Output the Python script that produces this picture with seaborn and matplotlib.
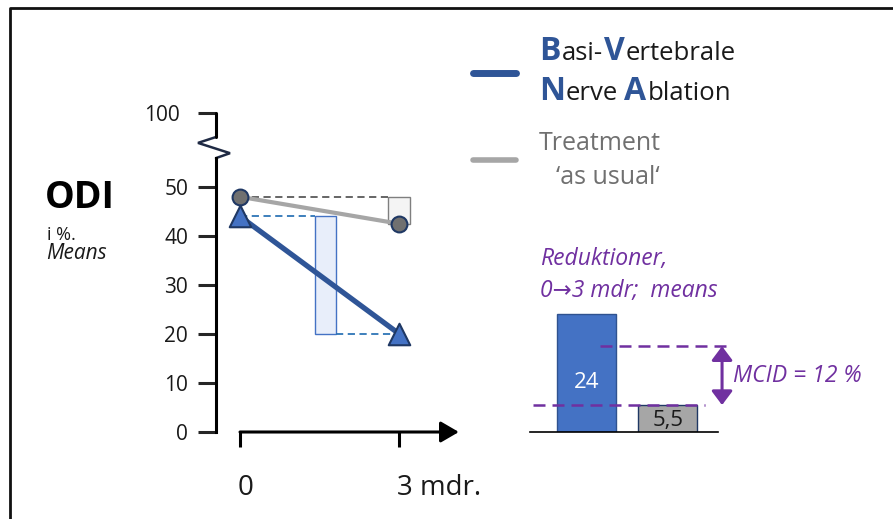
import matplotlib
matplotlib.use("Agg")
import matplotlib.pyplot as plt
from matplotlib.lines import Line2D
from matplotlib.patches import Rectangle
import seaborn as sns
import pandas as pd

#%% Data
months = [0, 3]
month_labels = ["0", "3 mdr."]
groups = ["BVNA", "TAU"]
odi_bvna = [44, 20]
odi_tau = [48, 42.5]
reductions = [24, 5.5]
reduction_labels = ["24", "5,5"]
mcid = 12
yticks = [0, 10, 20, 30, 40, 50]
ytick_labels = ["0", "10", "20", "30", "40", "50"]
break_pos = 65.1      # axis position of the "100" tick (axis is broken above 50)
break_label = "100"

#%% Style
sns.set_theme(style="white")
plt.rcParams["font.family"] = ["Open Sans", "DejaVu Sans"]

W, H = 893, 519
blue = "#2F5597"
blue_fill = "#4472C4"
navy = "#1F3864"
grey = "#A6A6A6"
purple = "#7030A0"

fig = plt.figure(figsize=(W / 100, H / 100), dpi=100)

# frame lines top + left
fig.add_artist(Line2D([10 / W, 10 / W, 1], [0, 1 - 8 / H, 1 - 8 / H], color="#111111", lw=2))

#%% Main line chart
px_unit = 4.9
ax = fig.add_axes([216 / W, 87 / H, 254 / W, 68 * px_unit / H])
df_b = pd.DataFrame({"month": months, "odi": odi_bvna})
df_t = pd.DataFrame({"month": months, "odi": odi_tau})

# reduction boxes and dashed guides
ax.add_patch(Rectangle((1.41, odi_bvna[1]), 0.39, odi_bvna[0] - odi_bvna[1],
                       facecolor="#E8EEFA", edgecolor=blue_fill, lw=1, zorder=1))
ax.add_patch(Rectangle((2.79, odi_tau[1]), 0.41, odi_tau[0] - odi_tau[1],
                       facecolor="#F4F4F4", edgecolor="#7F7F7F", lw=1, zorder=1))
ax.hlines(odi_bvna[0], months[0], 1.41, colors="#2E75B6", linestyles=(0, (4, 2.5)), lw=1.3, zorder=1.5)
ax.hlines(odi_bvna[1], 1.80, months[1], colors="#2E75B6", linestyles=(0, (4, 2.5)), lw=1.3, zorder=1.5)
ax.hlines(odi_tau[0], months[0], 2.79, colors="#595959", linestyles=(0, (4, 2.5)), lw=1.3, zorder=1.5)

sns.lineplot(data=df_t, x="month", y="odi", color=grey, lw=3, ax=ax, zorder=2)
sns.lineplot(data=df_b, x="month", y="odi", color=blue, lw=3.8, ax=ax, zorder=2)
sns.scatterplot(data=df_t, x="month", y="odi", marker="o", s=130, color="#707070",
                edgecolor=navy, linewidth=1.5, ax=ax, zorder=3)
sns.scatterplot(data=df_b, x="month", y="odi", marker="^", s=240, color=blue_fill,
                edgecolor=navy, linewidth=1.5, ax=ax, zorder=3)

ax.set_xlim(-0.452, 4.33)
ax.set_ylim(0, 68)
ax.set(xlabel="", ylabel="")
for side in ["top", "right", "bottom"]:
    ax.spines[side].set_visible(False)
ax.spines["left"].set_bounds(0, 55.9)
ax.spines["left"].set_linewidth(2.2)
ax.spines["left"].set_color("black")
ax.set_yticks(yticks + [break_pos])
ax.set_yticklabels(ytick_labels + [break_label])
ax.tick_params(axis="y", left=True, length=13, width=2.2, pad=7, labelsize=15, labelcolor="#1a1a1a")
ax.get_yticklabels()[-1].set_x(-0.035)   # the "100" label sits further left
ax.set_xticks([])

# axis break zigzag + top piece
yt = ax.get_yaxis_transform()
ax.plot([0, 14 / 254, -18 / 254, 0], [55.9, 56.9, 59.0, 60.2], color="#1F2A44", lw=1.8,
        transform=yt, clip_on=False, solid_joinstyle="miter")
ax.plot([0, 0], [60.2, break_pos], color="black", lw=2.2, transform=yt, clip_on=False)

# x axis arrow + ticks
ax.annotate("", xy=(4.12, 0), xytext=(months[0], 0),
            arrowprops=dict(arrowstyle="-|>,head_length=0.55,head_width=0.32", color="black",
                            lw=2.2, mutation_scale=20, shrinkA=0, shrinkB=0))
ax.vlines(months, -3.1, 0, colors="black", lw=2.2, clip_on=False)
ax.text(months[0] + 0.1, -12.8, month_labels[0], ha="center", va="baseline", fontsize=20, color="#1a1a1a")
ax.text(months[1] - 0.04, -12.8, month_labels[1], ha="left", va="baseline", fontsize=20, color="#1a1a1a")

# y label
fig.text(45 / W, 1 - 208 / H, "ODI", fontsize=27, fontweight="bold", color="black")
fig.text(47 / W, 1 - 240 / H, "i %.", fontsize=13, color="#1a1a1a")
fig.text(46 / W, 1 - 259 / H, "Means", fontsize=15, style="italic", color="#1a1a1a")

#%% Legend
fig.add_artist(Line2D([473 / W, 516 / W], [1 - 73 / H] * 2, color=blue, lw=5))
fig.add_artist(Line2D([473 / W, 516 / W], [1 - 160 / H] * 2, color=grey, lw=4))

renderer = fig.canvas.get_renderer()


def put_pieces(x_px, y_px, pieces):
    for s, kw, gap in pieces:
        t = fig.text(x_px / W, 1 - y_px / H, s, va="baseline", ha="left", **kw)
        x_px += t.get_window_extent(renderer).width + gap


big = dict(fontsize=23, fontweight="bold", color=blue)
small = dict(fontsize=18.5, color="#1a1a1a")
put_pieces(539, 60, [("B", big, 1), ("asi-", small, 1), ("V", big, 1), ("ertebrale", small, 0)])
put_pieces(539, 100, [("N", big, 1), ("erve", small, 6), ("A", big, 1), ("blation", small, 0)])
fig.text(539 / W, 1 - 150 / H, "Treatment", fontsize=18, color="#707070")
fig.text(556 / W, 1 - 184 / H, "\u2018as usual\u2018", fontsize=18, color="#707070")

#%% Reduction bars
bx = fig.add_axes([530 / W, 87 / H, 188 / W, 30 * px_unit / H])
sns.barplot(x=groups, y=reductions, hue=groups, palette=[blue_fill, grey], width=0.73,
            legend=False, ax=bx, saturation=1)
for p, ec in zip(bx.patches, ["#2F528F", navy]):
    p.set_edgecolor(ec)
    p.set_linewidth(1)
bx.set_xlim(-0.70, 1.62)
bx.set_ylim(0, 30)
bx.set(xlabel="", ylabel="", xticks=[], yticks=[])
bx.patch.set_alpha(0)
for side in ["top", "right", "left"]:
    bx.spines[side].set_visible(False)
bx.spines["bottom"].set_color("black")
bx.spines["bottom"].set_linewidth(1.2)

bx.text(0, 10.2, reduction_labels[0], ha="center", va="center", fontsize=16, color="white")
bx.text(1, 2.3, reduction_labels[1], ha="center", va="center", fontsize=16, color="#1a1a1a")

# MCID band
low = reductions[1]
high = reductions[1] + mcid
bx.hlines(low, -0.66, 1.46, colors=purple, linestyles=(0, (4.8, 2.8)), lw=1.8, clip_on=False)
bx.hlines(high, 0.167, 1.75, colors=purple, linestyles=(0, (4.8, 2.8)), lw=1.8, clip_on=False)
bx.annotate("", xy=(1.67, high), xytext=(1.67, low), annotation_clip=False,
            arrowprops=dict(arrowstyle="<|-|>,head_length=0.6,head_width=0.45", color=purple,
                            lw=2.2, mutation_scale=14, shrinkA=0, shrinkB=0))
bx.text(1.81, (low + high) / 2, f"MCID = {mcid} %", ha="left", va="center", fontsize=16.5,
        style="italic", color=purple, clip_on=False)

fig.text(540 / W, 1 - 265 / H, "Reduktioner,", fontsize=16.5, style="italic", color=purple)
fig.text(540 / W, 1 - 297 / H, "0\u21923 mdr;  means", fontsize=16.5, style="italic", color=purple)

fig.savefig("out.png", dpi=100)
